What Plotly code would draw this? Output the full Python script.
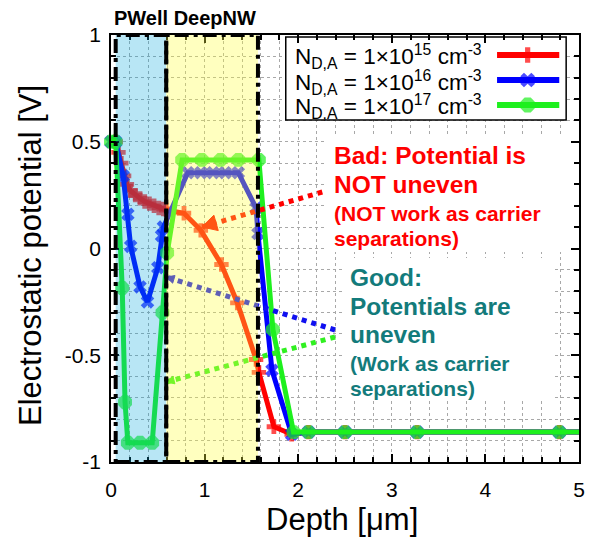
import plotly.graph_objects as go

# ---------------- data ----------------
depth_1e15 = [0.05, 0.08, 0.11, 0.14, 0.17, 0.21, 0.26, 0.31, 0.36, 0.41, 0.46, 0.51, 0.56, 0.59,
              0.78, 0.96, 1.18, 1.35, 1.55, 1.58, 1.74, 1.93, 2.11, 2.5, 3.27, 4.79, 5.0]
pot_1e15 = [0.50, 0.45, 0.40, 0.34, 0.30, 0.27, 0.25, 0.235, 0.22, 0.21, 0.20, 0.19, 0.185, 0.18,
            0.165, 0.085, -0.075, -0.255, -0.52, -0.58, -0.835, -0.87, -0.86, -0.86, -0.86, -0.86, -0.86]

depth_1e16 = [0.0, 0.05, 0.13, 0.18, 0.21, 0.31, 0.39, 0.50, 0.54, 0.56, 0.82, 0.96, 1.09, 1.22,
              1.36, 1.55, 1.57, 1.72, 1.93, 2.11, 2.5, 3.27, 4.79, 5.0]
pot_1e16 = [0.50, 0.50, 0.34, 0.16, 0.01, -0.18, -0.25, -0.09, 0.06, 0.10, 0.355, 0.355, 0.355, 0.355,
            0.355, 0.19, 0.07, -0.57, -0.87, -0.86, -0.86, -0.86, -0.86, -0.86]

depth_1e17 = [0.0, 0.05, 0.12, 0.15, 0.18, 0.31, 0.44, 0.55, 0.60, 0.76, 0.97, 1.17, 1.36, 1.58,
              1.73, 1.95, 2.11, 2.5, 3.27, 4.79, 5.0]
pot_1e17 = [0.50, 0.50, -0.185, -0.72, -0.91, -0.91, -0.91, -0.30, -0.02, 0.415, 0.415, 0.415, 0.415, 0.415,
            -0.38, -0.86, -0.86, -0.86, -0.86, -0.86, -0.86]

series_labels = ["N<sub>D,A</sub> = 1×10<sup>15</sup> cm<sup>-3</sup>",
                 "N<sub>D,A</sub> = 1×10<sup>16</sup> cm<sup>-3</sup>",
                 "N<sub>D,A</sub> = 1×10<sup>17</sup> cm<sup>-3</sup>"]

x_tick_vals = [0, 1, 2, 3, 4, 5]
x_tick_text = ["0", "1", "2", "3", "4", "5"]
y_tick_vals = [-1, -0.5, 0, 0.5, 1]
y_tick_text = ["-1", "-0.5", "0", "0.5", "1"]

pwell_range = [0.05, 0.59]
deepnw_range = [0.59, 1.57]

# ---------------- geometry helpers ----------------
W, H = 592, 537
L, R, T, B = 111, 585, 35, 462
X0, X1, Y0, Y1 = 0.0, 5.0, -1.0, 1.0

def dx(px):
    return X0 + (px - L) / (R - L) * (X1 - X0)

def dy(py):
    return Y1 - (py - T) / (B - T) * (Y1 - Y0)

def paper_x(px):
    return (px - L) / (R - L)

def paper_y(py):
    return (B - py) / (B - T)

FONT = "Liberation Sans, Arial, sans-serif"
colors = ["#ff0000", "#0000ff", "#1ef01e"]
symbols = ["cross", "x", "octagon"]
msizes = [12, 12, 15]

fig = go.Figure()
for xs, ys, c, s, m in zip([depth_1e15, depth_1e16, depth_1e17],
                           [pot_1e15, pot_1e16, pot_1e17], colors, symbols, msizes):
    sizes = [m] * (len(xs) - 1) + [0]
    fig.add_trace(go.Scatter(x=xs, y=ys, mode="lines+markers",
                             line=dict(color=c, width=5),
                             marker=dict(symbol=s, size=sizes, color=c, line=dict(width=0)),
                             cliponaxis=False, showlegend=False, hoverinfo="skip"))

# custom legend (text left, sample right)
leg_rows_py = [55, 80, 105]
for (lab, c, s, m, py) in zip(series_labels, colors, symbols, msizes, leg_rows_py):
    fig.add_trace(go.Scatter(x=[dx(502), dx(533), dx(565)], y=[dy(py)] * 3,
                             mode="lines+markers", line=dict(color=c, width=6),
                             marker=dict(symbol=s, size=[0, m + 1, 0], color=c, line=dict(width=0)),
                             showlegend=False, hoverinfo="skip"))

shapes = []
# white boxes (legend, text boxes) over grid, under traces
shapes.append(dict(type="rect", xref="x", yref="y", x0=dx(288), x1=dx(572), y0=dy(120), y1=dy(37),
                   fillcolor="white", line=dict(color="black", width=1.5), layer="between"))
shapes.append(dict(type="rect", xref="x", yref="y", x0=dx(328), x1=dx(584), y0=dy(252), y1=dy(135),
                   fillcolor="white", line=dict(width=0), layer="between"))
shapes.append(dict(type="rect", xref="x", yref="y", x0=dx(345), x1=dx(560), y0=dy(398), y1=dy(258),
                   fillcolor="white", line=dict(width=0), layer="between"))

# dotted pointer arrows (drawn under the translucent region overlays)
def arrow(p_from, p_to, color, head_len, head_w):
    (fx, fy), (tx, ty) = p_from, p_to
    res = [dict(type="line", xref="x", yref="y", x0=dx(fx), y0=dy(fy), x1=dx(tx), y1=dy(ty),
                line=dict(color=color, width=5, dash="5px,5px"), layer="above")]
    vx, vy = fx - tx, fy - ty
    n = (vx ** 2 + vy ** 2) ** 0.5
    ux, uy = vx / n, vy / n
    bx, by = tx + ux * head_len, ty + uy * head_len
    px_, py_ = -uy * head_w / 2, ux * head_w / 2
    pts = [(tx, ty), (bx + px_, by + py_), (bx - px_, by - py_)]
    path = "M " + " L ".join(f"{dx(a)},{dy(b)}" for a, b in pts) + " Z"
    res.append(dict(type="path", xref="x", yref="y", path=path, fillcolor=color,
                    line=dict(color=color, width=1), layer="above"))
    return res

shapes += arrow((325, 192), (203, 227), "#ff0000", 15, 16)
shapes += arrow((338, 330), (167, 277), "#1010f0", 8, 8)
shapes += arrow((338, 337), (167, 382), "#30f020", 8, 8)

# translucent region overlays
shapes.append(dict(type="rect", xref="x", yref="y", x0=pwell_range[0], x1=pwell_range[1], y0=-1, y1=1,
                   fillcolor="rgb(0,165,220)", opacity=0.28, line=dict(width=0), layer="above"))
shapes.append(dict(type="rect", xref="x", yref="y", x0=deepnw_range[0], x1=deepnw_range[1], y0=-1, y1=1,
                   fillcolor="rgb(255,255,60)", opacity=0.33, line=dict(width=0), layer="above"))
# dash-dot region boxes
for rng in (pwell_range, deepnw_range):
    shapes.append(dict(type="rect", xref="x", yref="y", x0=rng[0], x1=rng[1], y0=-1, y1=1,
                       fillcolor="rgba(0,0,0,0)",
                       line=dict(color="black", width=4, dash="14px,5px,4px,5px"), layer="above"))

annotations = []
def txt(text, px, py, size, color, bold=False, xanchor="left"):
    t = f"<b>{text}</b>" if bold else text
    annotations.append(dict(text=t, x=paper_x(px), y=paper_y(py), xref="paper", yref="paper",
                            xanchor=xanchor, yanchor="middle", showarrow=False,
                            font=dict(family=FONT, size=size, color=color)))

for lab, py in zip(series_labels, leg_rows_py):
    txt(lab, 295, py + 2, 22.5, "black")

red_txt = "#ff0000"
txt("Bad: Potential is", 335, 155, 24.5, red_txt, True)
txt("NOT uneven", 335, 184, 24.5, red_txt, True)
txt("(NOT work as carrier", 335, 213, 21, red_txt, True)
txt("separations)", 335, 238, 21, red_txt, True)

teal = "#137b7b"
txt("Good:", 351, 277, 24.5, teal, True)
txt("Potentials are", 351, 306, 24.5, teal, True)
txt("uneven", 351, 334, 24.5, teal, True)
txt("(Work as carrier", 351, 363, 21, teal, True)
txt("separations)", 351, 388, 21, teal, True)

txt("PWell DeepNW", 112, 18, 20, "black", True)

# axis titles
annotations.append(dict(text="Depth [μm]", x=paper_x(345), y=paper_y(519), xref="paper", yref="paper",
                        xanchor="center", yanchor="middle", showarrow=False,
                        font=dict(family=FONT, size=31, color="black")))
annotations.append(dict(text="Electrostatic potential [V]", x=paper_x(29), y=paper_y(256),
                        xref="paper", yref="paper", xanchor="center", yanchor="middle",
                        showarrow=False, textangle=-90,
                        font=dict(family=FONT, size=31, color="black")))

grid_c = "#a8a8a8"
axis_common = dict(showline=True, linecolor="black", linewidth=1.5, mirror="allticks",
                   ticks="inside", ticklen=8, tickcolor="black", tickwidth=1.5,
                   showgrid=True, gridcolor=grid_c, griddash="dot", gridwidth=1,
                   zeroline=False, tickfont=dict(family=FONT, size=21, color="black"))

fig.update_layout(
    width=W, height=H, autosize=False,
    margin=dict(l=L, r=W - R, t=T, b=H - B, pad=0),
    paper_bgcolor="white", plot_bgcolor="white",
    showlegend=False,
    xaxis=dict(range=[X0, X1], tickvals=x_tick_vals, ticktext=x_tick_text,
               minor=dict(dtick=0.2, tick0=0, ticks="inside", ticklen=5, tickcolor="black",
                          showgrid=True, gridcolor=grid_c, griddash="dot", gridwidth=1),
               ticklabelstandoff=8, **axis_common),
    yaxis=dict(range=[Y0, Y1], tickvals=y_tick_vals, ticktext=y_tick_text,
               minor=dict(dtick=0.1, tick0=0, ticks="inside", ticklen=5, tickcolor="black",
                          showgrid=True, gridcolor=grid_c, griddash="dot", gridwidth=1),
               ticklabelstandoff=4, **axis_common),
    shapes=shapes, annotations=annotations,
)

fig.write_html("out.html")
